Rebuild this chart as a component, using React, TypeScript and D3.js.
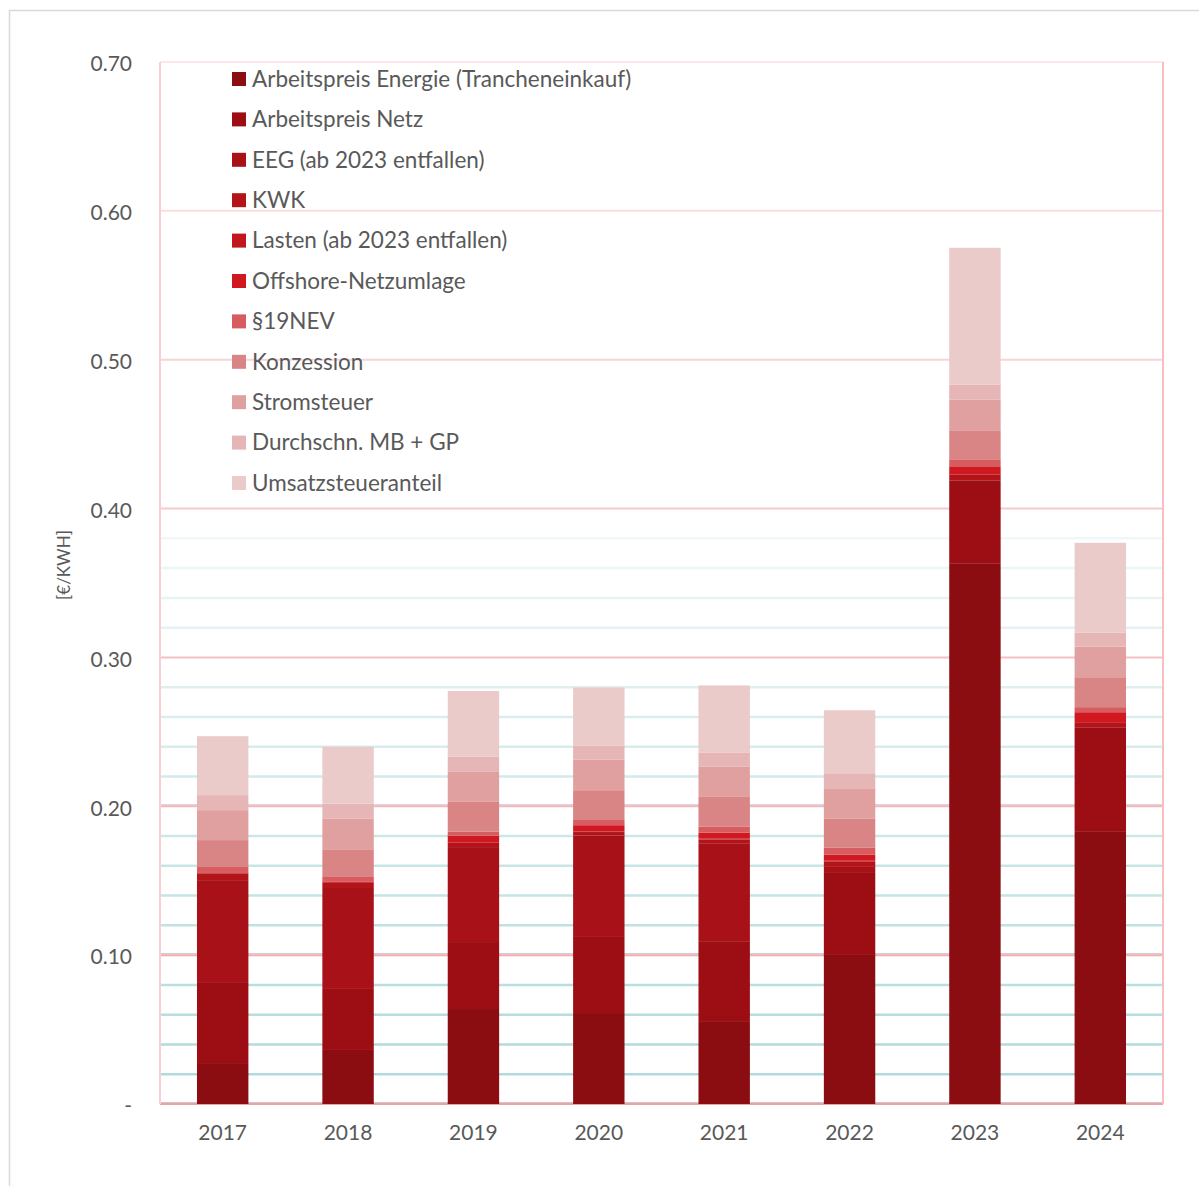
import React from 'react';
import * as d3 from 'd3';

const years = ['2017', '2018', '2019', '2020', '2021', '2022', '2023', '2024'];

const seriesNames = [
  'Arbeitspreis Energie (Trancheneinkauf)',
  'Arbeitspreis Netz',
  'EEG (ab 2023 entfallen)',
  'KWK',
  'Lasten (ab 2023 entfallen)',
  'Offshore-Netzumlage',
  '§19NEV',
  'Konzession',
  'Stromsteuer',
  'Durchschn. MB + GP',
  'Umsatzsteueranteil',
];

const seriesColors = [
  '#8b0c11', '#9c0e14', '#a81118', '#b3141a', '#c0161e', '#cf1820',
  '#d65c5f', '#d98586', '#e0a0a0', '#e6b5b5', '#ebcaca',
];

// values per series, one per year, in €/kWh
const energie = [0.0275, 0.0363, 0.0638, 0.0611, 0.0557, 0.1007, 0.3633, 0.1833];
const netz = [0.0544, 0.0410, 0.0450, 0.0517, 0.0537, 0.0551, 0.0557, 0.0698];
const eeg = [0.0685, 0.0678, 0.0638, 0.0676, 0.0658, 0.0035, 0, 0];
const kwk = [0.0045, 0.0035, 0.0028, 0.0023, 0.0025, 0.0037, 0.0040, 0.0034];
const lasten = [0.0003, 0.0006, 0.0001, 0.0004, 0.0005, 0.0004, 0, 0];
const offshore = [0, 0.0004, 0.0047, 0.0042, 0.0040, 0.0040, 0.0054, 0.0067];
const nev19 = [0.0040, 0.0034, 0.0027, 0.0040, 0.0040, 0.0047, 0.0047, 0.0034];
const konzession = [0.0181, 0.0181, 0.0201, 0.0195, 0.0201, 0.0195, 0.0195, 0.0201];
const stromsteuer = [0.0201, 0.0205, 0.0201, 0.0205, 0.0205, 0.0205, 0.0205, 0.0205];
const mbgp = [0.0101, 0.0101, 0.0101, 0.0095, 0.0094, 0.0101, 0.0101, 0.0094];
const umsatz = [0.0396, 0.0383, 0.0443, 0.0390, 0.0450, 0.0423, 0.0920, 0.0604];

const allSeries = [energie, netz, eeg, kwk, lasten, offshore, nev19, konzession, stromsteuer, mbgp, umsatz];

const yTicks = [0, 0.1, 0.2, 0.3, 0.4, 0.5, 0.6, 0.7];
const minorTicks = d3.range(1, 20).map(i => i * 0.02);

const W = 1199;
const H = 1186;
const left = 160;
const right = 1163;
const top = 62;
const bottom = 1104;
const textColor = '#595959';
const font = 'Lato, "Open Sans", sans-serif';

export default function App() {
  const x = d3.scaleBand<string>().domain(years).range([left, right]).paddingInner(0.59).paddingOuter(0.295);
  const y = d3.scaleLinear().domain([0, 0.7]).range([bottom, top]);

  const table = years.map((yr, i) => {
    const row: any = { year: yr };
    seriesNames.forEach((s, k) => { row[s] = allSeries[k][i]; });
    return row;
  });
  const stacked = d3.stack<any>().keys(seriesNames)(table);

  const majorColor = d3.interpolateRgb('#eea2a7', '#fde8e9');
  const minorColor = d3.interpolateRgb('#acd8d9', '#f3f9f9');

  return (
    <div style={{ position: 'absolute', left: 0, top: 0 }}>
      <svg width={W} height={H} style={{ display: 'block', fontFamily: font }}>
        <rect x={0} y={0} width={W} height={H} fill="#fff" />
        <rect x={9.5} y={10.5} width={W} height={H} fill="none" stroke="#d9d9d9" strokeWidth={1.5} />

        {/* minor grid */}
        {minorTicks.filter(t => Math.abs((t * 50) % 5) > 0.01 && t < 0.395).map(t => (
          <line key={'m' + t} x1={left} x2={right} y1={y(t)} y2={y(t)}
            stroke={minorColor(t / 0.4)} strokeWidth={2.5} />
        ))}

        {/* major grid */}
        {yTicks.map(t => (
          <g key={'g' + t}>
            {t <= 0.2 && (
              <line x1={left} x2={right} y1={y(t) - 1.5} y2={y(t) - 1.5} stroke="#cfc4c6" strokeWidth={1} />
            )}
            <line x1={left} x2={right} y1={y(t)} y2={y(t)}
              stroke={majorColor(t / 0.7)} strokeWidth={2} />
          </g>
        ))}

        <line x1={left} x2={left} y1={top} y2={bottom} stroke="#f9cfd1" strokeWidth={2} />
        <line x1={right} x2={right} y1={top} y2={bottom} stroke="#f6c0c3" strokeWidth={2} />

        {/* bars */}
        {stacked.map((layer, k) => (
          <g key={layer.key} fill={seriesColors[k]}>
            {layer.map((d, i) => (
              d[1] - d[0] > 0 ? (
                <rect key={years[i]} x={x(years[i])} width={x.bandwidth()}
                  y={y(d[1])} height={y(d[0]) - y(d[1])} />
              ) : null
            ))}
          </g>
        ))}

        {/* y tick labels */}
        {yTicks.map(t => (
          <text key={'t' + t} x={132} y={y(t) + 2} dy="0.35em" textAnchor="end"
            fontSize={21} fill={textColor}>
            {t === 0 ? '-' : d3.format('.2f')(t)}
          </text>
        ))}

        <text transform={`translate(70,${565}) rotate(-90)`} textAnchor="middle"
          fontSize={17} fill={textColor}>[€/KWH]</text>

        {/* x labels */}
        {years.map(yr => (
          <text key={'x' + yr} x={(x(yr) as number) + x.bandwidth() / 2} y={1133} dy="0.35em"
            textAnchor="middle" fontSize={21} fill={textColor}>{yr}</text>
        ))}

        {/* legend */}
        {seriesNames.map((s, k) => {
          const ly = 79 + k * 40.4;
          return (
            <g key={'l' + s} transform={`translate(232,${ly})`}>
              <rect x={0} y={-7} width={14} height={14} fill={seriesColors[k]} />
              <text x={20} y={0} dy="0.35em" fontSize={22.5} fill={textColor}>{s}</text>
            </g>
          );
        })}
      </svg>
    </div>
  );
}
